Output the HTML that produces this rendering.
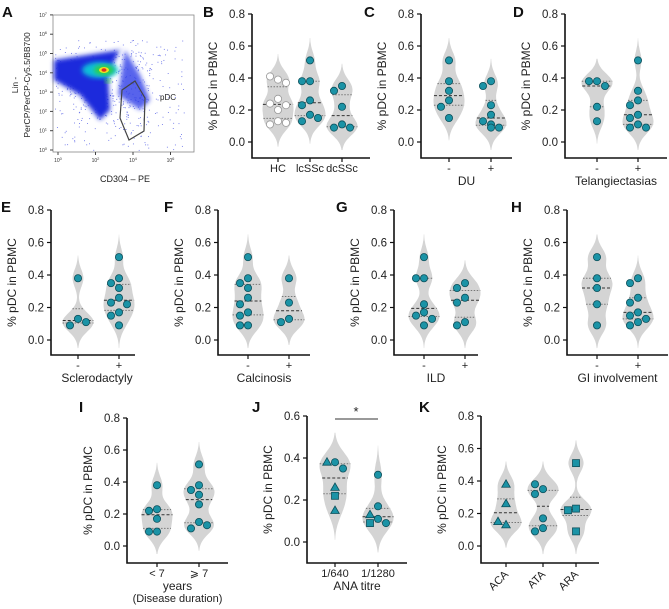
<!DOCTYPE html>
<html><head><meta charset="utf-8"><style>
body{margin:0;background:#fff}
svg{display:block;font-family:"Liberation Sans",Arial,sans-serif}
</style></head><body>
<svg id="fig" width="669" height="609" viewBox="0 0 669 609"></svg>
<script>
// ---- data ----
const bHC=[0.39,0.41,0.37,0.27,0.24,0.23,0.20,0.13,0.11,0.12];
const bLc=[0.51,0.38,0.38,0.26,0.23,0.17,0.13,0.15];
const bDc=[0.35,0.32,0.22,0.11,0.09,0.09];
const cNeg=[0.51,0.38,0.32,0.26,0.22,0.15];
const cPos=[0.38,0.35,0.23,0.17,0.13,0.11,0.09,0.09];
const dNeg=[0.38,0.38,0.35,0.22,0.13];
const dPos=[0.51,0.32,0.26,0.23,0.17,0.15,0.11,0.09,0.09];
const eNeg=[0.38,0.13,0.09,0.11];
const ePos=[0.51,0.38,0.35,0.32,0.26,0.23,0.22,0.17,0.15,0.09];
const fNeg=[0.51,0.38,0.35,0.32,0.26,0.22,0.17,0.15,0.09,0.09];
const fPos=[0.38,0.23,0.13,0.11];
const gNeg=[0.51,0.38,0.38,0.22,0.17,0.15,0.13,0.09];
const gPos=[0.35,0.32,0.26,0.23,0.11,0.09];
const hNeg=[0.51,0.38,0.32,0.22,0.09];
const hPos=[0.38,0.35,0.26,0.23,0.17,0.15,0.13,0.11,0.09];
const iLt=[0.38,0.23,0.22,0.17,0.09,0.09];
const iGe=[0.51,0.38,0.35,0.32,0.26,0.15,0.11,0.13];
const j640=[0.38,0.38,0.35,0.26,0.22,0.15];
const j640s=['c','t','c','t','s','t'];
const j1280=[0.32,0.17,0.11,0.13,0.09,0.09];
const j1280s=['c','c','c','t','s','c'];
const kACA=[0.38,0.26,0.13,0.15];
const kACAs=['t','t','t','t'];
const kATA=[0.35,0.38,0.32,0.17,0.11,0.09];
const kATAs=['c','c','c','c','c','c'];
const kARA=[0.51,0.23,0.22,0.09];
const kARAs=['s','s','s','s'];
const ticks08=[0,0.2,0.4,0.6,0.8];
const ticks06=[0,0.2,0.4,0.6];

const NS='http://www.w3.org/2000/svg';
const svg=document.getElementById('fig');
function el(tag,attrs,parent,text){const e=document.createElementNS(NS,tag);for(const k in attrs)e.setAttribute(k,attrs[k]);if(text!==undefined)e.textContent=text;(parent||svg).appendChild(e);return e;}

function quant(a,q){const s=[...a].sort((x,y)=>x-y);const p=(s.length-1)*q;const lo=Math.floor(p),hi=Math.ceil(p);return s[lo]+(s[hi]-s[lo])*(p-lo);}

function panel(cfg){
  const g=el('g',{});
  
  
  const yMaxV=cfg.ticks[cfg.ticks.length-1];
  const yS=v=>cfg.y0+(cfg.yTop-cfg.y0)*v/yMaxV;
  const L=el('text',{x:cfg.lx,y:cfg.ly,'font-size':15,'font-weight':'bold',fill:'#111'},g,cfg.letter);
  
  
  const ax=el('path',{d:`M${cfg.sx},${cfg.yTop}V${cfg.bot}H${cfg.xEnd}`,stroke:'#111','stroke-width':1.6,fill:'none'},g);
  
  
  cfg.ticks.forEach(t=>{
    el('line',{x1:cfg.sx-4,x2:cfg.sx,y1:yS(t),y2:yS(t),stroke:'#111','stroke-width':1.2},g);
    const tl=el('text',{x:cfg.sx-7,y:yS(t)+4,'font-size':11.5,'text-anchor':'end',fill:'#222'},g,t.toFixed(1));
    
    
  });
  const cy=(cfg.yTop+cfg.bot)/2;
  const yt=el('text',{x:cfg.sx-35,y:cy,'font-size':12,'text-anchor':'middle',fill:'#222',transform:`rotate(-90 ${cfg.sx-35} ${cy})`},g,'% pDC in PBMC');
  
  
  cfg.groups.forEach((gr,gi)=>{
    const x=gr.x;const d=gr.data;const h=0.055;
    const lo=Math.min(...d)-0.14,hi=Math.max(...d)+0.14;
    const dens=v=>d.reduce((s,p)=>s+Math.exp(-0.5*((v-p)/h)**2),0);
    const N=60;let mx=0;const pts=[];
    for(let i=0;i<=N;i++){const v=lo+(hi-lo)*i/N;const dv=dens(v);pts.push([v,dv]);mx=Math.max(mx,dv);}
    const W=cfg.vw||15.5;
    const wAt=v=>dens(v)/mx*W;
    let path='';
    pts.forEach((p,i)=>{path+=(i?'L':'M')+(x+p[1]/mx*W).toFixed(1)+','+yS(p[0]).toFixed(1);});
    for(let i=N;i>=0;i--){const p=pts[i];path+='L'+(x-p[1]/mx*W).toFixed(1)+','+yS(p[0]).toFixed(1);}
    const vio=el('path',{d:path+'Z',fill:'#d4d4d4'},g);
    
    
    [[0.25,'1.5,1.5','#777'],[0.5,'3,2','#333'],[0.75,'1.5,1.5','#777']].forEach(q=>{
      const v=quant(d,q[0]);const w=wAt(v);
      el('line',{x1:x-w,x2:x+w,y1:yS(v),y2:yS(v),stroke:q[2],'stroke-width':1,'stroke-dasharray':q[1]},g);
    });
    const placed=[];
    d.forEach((v,i)=>{
      const py=yS(v);let off=0;const cands=[0,-8,8,-15,15];
      for(const c of cands){if(!placed.some(p=>Math.abs(p[1]-py)<7&&Math.abs(p[0]-c)<7.5)){off=c;break;}}
      placed.push([off,py]);
      const sh=gr.shapes?gr.shapes[i]:'c';
      const px=x+off;const fill=gr.white?'#fff':'#1b93a6';const st=gr.white?'#999':'#0d4f5a';
      let m;
      if(sh==='t')m=el('path',{d:`M${px},${py-4.5}L${px+4.3},${py+3}L${px-4.3},${py+3}Z`,fill,stroke:st,'stroke-width':0.8},g);
      else if(sh==='s')m=el('rect',{x:px-3.5,y:py-3.5,width:7,height:7,fill,stroke:st,'stroke-width':0.8},g);
      else m=el('circle',{cx:px,cy:py,r:3.6,fill,stroke:st,'stroke-width':0.8},g);
      
      
    });
    el('line',{x1:x,x2:x,y1:cfg.bot,y2:cfg.bot+4,stroke:'#111','stroke-width':1.2},g);
    let t;
    if(cfg.rot){t=el('text',{x:x+3,y:cfg.bot+12,'font-size':11,'text-anchor':'end',fill:'#222',transform:`rotate(-45 ${x+3} ${cfg.bot+12})`},g,gr.label);}
    else t=el('text',{x:x,y:cfg.bot+14,'font-size':11,'text-anchor':'middle',fill:'#222'},g,gr.label);
    
    
  });
  (cfg.xtitle||[]).forEach((s,i)=>{
    const t=el('text',{x:(cfg.sx+cfg.xEnd)/2+(cfg.xtOff||0),y:cfg.bot+27+i*12,'font-size':i?11:12,'text-anchor':'middle',fill:'#222'},g,s);
    
    
  });
  return {g,yS};
}

const r1={yTop:14,y0:142,bot:158,ticks:ticks08};
panel({...r1,letter:'B',lx:203,ly:17,sx:252,xEnd:370,groups:[{x:278,label:'HC',data:bHC,white:true},{x:310,label:'lcSSc',data:bLc},{x:342,label:'dcSSc',data:bDc}]});
panel({...r1,letter:'C',lx:364,ly:17,sx:421,xEnd:512,groups:[{x:449,label:'-',data:cNeg},{x:491,label:'+',data:cPos}],xtitle:['DU']});
panel({...r1,letter:'D',lx:513,ly:17,sx:565,xEnd:667,groups:[{x:597,label:'-',data:dNeg},{x:638,label:'+',data:dPos}],xtitle:['Telangiectasias']});
const r2={yTop:210,y0:340,bot:355,ticks:ticks08};
panel({...r2,letter:'E',lx:1,ly:212,sx:51,xEnd:135,groups:[{x:78,label:'-',data:eNeg},{x:119,label:'+',data:ePos}],xtitle:['Sclerodactyly'],xtOff:4});
panel({...r2,letter:'F',lx:164,ly:212,sx:218,xEnd:310,groups:[{x:248,label:'-',data:fNeg},{x:289,label:'+',data:fPos}],xtitle:['Calcinosis']});
panel({...r2,letter:'G',lx:336,ly:212,sx:394,xEnd:478,groups:[{x:424,label:'-',data:gNeg},{x:465,label:'+',data:gPos}],xtitle:['ILD']});
panel({...r2,letter:'H',lx:511,ly:212,sx:567,xEnd:668,groups:[{x:597,label:'-',data:hNeg},{x:638,label:'+',data:hPos}],xtitle:['GI involvement']});
panel({yTop:418,y0:546,bot:563,ticks:ticks08,letter:'I',lx:79,ly:412,sx:127,xEnd:228,groups:[{x:157,label:'< 7',data:iLt},{x:199,label:'⩾ 7',data:iGe}],xtitle:['years','(Disease duration)']});
const J=panel({yTop:416,y0:542,bot:563,ticks:ticks06,letter:'J',lx:252,ly:412,sx:307,xEnd:407,groups:[{x:335,label:'1/640',data:j640,shapes:j640s},{x:378,label:'1/1280',data:j1280,shapes:j1280s}],xtitle:['ANA titre'],xtOff:0});
panel({yTop:416,y0:546,bot:563,ticks:ticks08,letter:'K',lx:419,ly:412,sx:481,xEnd:599,rot:true,groups:[{x:506,label:'ACA',data:kACA,shapes:kACAs},{x:543,label:'ATA',data:kATA,shapes:kATAs},{x:576,label:'ARA',data:kARA,shapes:kARAs}]});
const sig=el('line',{x1:335,x2:378,y1:419,y2:419,stroke:'#333','stroke-width':1});


const star=el('text',{x:356,y:416,'font-size':13,'text-anchor':'middle',fill:'#222'},svg,'*');



// ---- Panel A: flow cytometry ----
(function(){
  const g=el('g',{});
  
  
  const A=el('text',{x:2,y:17,'font-size':15,'font-weight':'bold',fill:'#111'},g,'A');
  
  
  const defs=el('defs',{},g);
  const f=el('filter',{id:'bl',x:'-20%',y:'-20%',width:'140%',height:'140%'},defs);
  el('feGaussianBlur',{stdDeviation:2.5},f);
  const box=el('rect',{x:53,y:15,width:141,height:137,fill:'#fff',stroke:'#888','stroke-width':0.8},g);
  
  
  let s=7;const rnd=()=>{s=(s*9301+49297)%233280;return s/233280;};
  for(let i=0;i<900;i++){const x=55+rnd()*130;const y=40+rnd()*110;
    const inMain=(y>60+ (x-55)*-0.1 && y<95+(x-55)*0.55 && x<150)||rnd()<0.25;
    if(inMain) el('rect',{x:x,y:y,width:0.9,height:0.9,fill:'#2a36e0',opacity:0.7},g);}
  el('path',{d:'M54,60 L120,50 L122,45 L108,75 L110,110 L100,120 L80,95 L54,80Z',fill:'#1a2bdc',filter:'url(#bl)'},g);
  el('path',{d:'M125,50 L140,75 L150,100 L140,110 L118,95 Z',fill:'#2e3ee8',opacity:0.8,filter:'url(#bl)'},g);
  el('ellipse',{cx:100,cy:70,rx:18,ry:8,fill:'#10c0d8',filter:'url(#bl)'},g);
  el('ellipse',{cx:104,cy:70,rx:10,ry:5,fill:'#30d040',filter:'url(#bl)'},g);
  el('ellipse',{cx:104,cy:70,rx:5,ry:3,fill:'#f0e020'},g);
  el('ellipse',{cx:104,cy:70,rx:2.5,ry:1.8,fill:'#e03020'},g);
  el('ellipse',{cx:108,cy:81,rx:3,ry:2,fill:'#30d040',filter:'url(#bl)'},g);
  const gate=el('path',{d:'M122,90 L135,81 L145,98 L144,131 L129,140 L120,118 Z',fill:'none',stroke:'#444','stroke-width':1.2},g);
  
  
  el('text',{x:160,y:100,'font-size':8,fill:'#222'},g,'pDC');
  const exps=['0','1','2','3','4','5','6','7'];
  exps.forEach((e,i)=>{const y=150-i*19.3;el('line',{x1:50,x2:53,y1:y,y2:y,stroke:'#444'},g);
    const t=el('text',{x:47,y:y+2,'font-size':5,'text-anchor':'end',fill:'#333'},g,'10');el('tspan',{dy:-2,'font-size':4},t,e);});
  ['0','2','4','6'].forEach((e,i)=>{const x=58+i*37.5;el('line',{x1:x,x2:x,y1:152,y2:155,stroke:'#444'},g);
    const t=el('text',{x:x,y:162,'font-size':5,'text-anchor':'middle',fill:'#333'},g,'10');el('tspan',{dy:-2,'font-size':4},t,e);});
  const xt=el('text',{x:125,y:182,'font-size':9,'text-anchor':'middle',fill:'#222'},g,'CD304 – PE');
  
  
  const y1=el('text',{x:18,y:85,'font-size':8.5,'text-anchor':'middle',fill:'#222',transform:'rotate(-90 18 85)'},g,'Lin -');
  const y2=el('text',{x:30,y:85,'font-size':8.5,'text-anchor':'middle',fill:'#222',transform:'rotate(-90 30 85)'},g,'PerCP/PerCP-Cy5.5/BB700');
  
  
  
  
})();
</script>
</body></html>
